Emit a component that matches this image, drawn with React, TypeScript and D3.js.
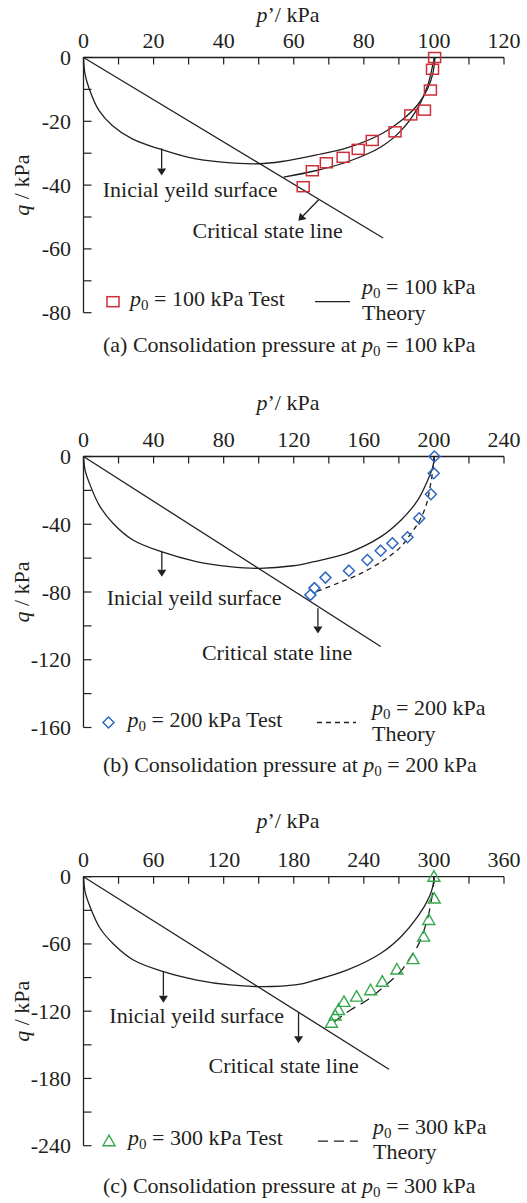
import React from "react";
import * as d3 from "d3";

type Pt = [number, number];

// ---- (a) p0 = 100 kPa ----
const xTicksA = [0, 20, 40, 60, 80, 100, 120];
const yTicksA = [0, -20, -40, -60, -80];
const yieldA: Pt[] = [
  [0, 0], [0.4, -5], [1.6, -9.7], [4.4, -16.6], [8.2, -21.3], [13.9, -25.5],
  [21.5, -28.6], [30, -31.3], [39.5, -32.8], [50, -33.3], [56.6, -32.6],
  [66.2, -30.6], [75.6, -28.2], [85.1, -23.9], [90.8, -19.7], [95.6, -14.5],
  [98.4, -9.3], [99.7, -5], [100.3, 0],
];
const theoryA: Pt[] = [
  [100.3, 0], [99.8, -1.8], [98.4, -8.1], [95.6, -15.4], [90.8, -22.7],
  [85.1, -27.9], [75.6, -32.6], [66.2, -35.5], [57.1, -37.5],
];
const testA: Pt[] = [
  [100.2, 0], [99.6, -3.7], [99, -10.2], [97.3, -16.5], [93.4, -18],
  [88.9, -23.3], [82.4, -26], [78.4, -28.8], [74.1, -31.3], [69.3, -33],
  [65.3, -35.5], [62.7, -40.5],
];
const cslA: Pt[] = [[0, 0], [85.5, -56.6]];

// ---- (b) p0 = 200 kPa ----
const xTicksB = [0, 40, 80, 120, 160, 200, 240];
const yTicksB = [0, -40, -80, -120, -160];
const yieldB: Pt[] = [
  [0, 0], [1, -8.5], [3.4, -15.8], [9.1, -29], [16.8, -39.4], [28.2, -49.3],
  [44.4, -56.2], [64.4, -62], [83.4, -65], [100.6, -66], [119.6, -64.5],
  [131.7, -62], [150.8, -57], [169.8, -47.3], [181.3, -37.5], [190.8, -25.7],
  [196.5, -13.9], [199.4, -6], [200.3, 0],
];
const theoryB: Pt[] = [
  [200.3, 0], [199.5, -7], [198, -17], [195.6, -28.6], [191.5, -38.5],
  [186.5, -46], [181.2, -53.2], [171.8, -61], [158.6, -68.9], [145.2, -74.8],
  [131.5, -80.3],
];
const testB: Pt[] = [
  [200.3, 0], [199.9, -9.9], [198.3, -22.3], [191.6, -36.5], [184.9, -47.7],
  [176.3, -51.2], [169.6, -55.6], [162, -61.1], [151.5, -67.4], [138.1, -71.5],
  [131.8, -77.7], [129.5, -81.7],
];
const cslB: Pt[] = [[0, 0], [169.6, -112.2]];

// ---- (c) p0 = 300 kPa ----
const xTicksC = [0, 60, 120, 180, 240, 300, 360];
const yTicksC = [0, -60, -120, -180, -240];
const yieldC: Pt[] = [
  [0, 0], [1.5, -14], [5.6, -26.8], [14.2, -46], [25.6, -60], [42.7, -74.3],
  [68.4, -84.7], [97.1, -92.2], [125.6, -96.6], [152.8, -98.1], [182.8, -96.3],
  [197.4, -92.6], [226, -83.2], [254.6, -68.3], [271.8, -53.5], [286.1, -35.7],
  [296.1, -17.8], [299.2, -8], [300, 0],
];
const theoryC: Pt[] = [
  [300, 0], [299.5, -9], [297.5, -23], [294.3, -38.6], [289.5, -53.5],
  [285.8, -62.4], [278, -75], [271.4, -84.7], [257.1, -98.1], [242.9, -110],
  [228.6, -118.9], [219, -126], [213, -131],
];
const testC: Pt[] = [
  [300, 0], [300.3, -19.5], [295.6, -38.6], [291.2, -53.5], [282.1, -73.5],
  [268.3, -82.8], [255.8, -93.7], [245.8, -101.3], [233.8, -107], [223, -111.7],
  [218.3, -118.9], [215.4, -123.8], [212.3, -130.3],
];
const cslC: Pt[] = [[0, 0], [261.5, -171.8]];

const INK = "#231f20";

type MarkerKind = "square" | "diamond" | "triangle";

function Marker({ kind, cx, cy, color }: { kind: MarkerKind; cx: number; cy: number; color: string }) {
  if (kind === "square")
    return <rect x={cx - 6} y={cy - 5} width={12} height={10} fill="none" stroke={color} strokeWidth={1.5} />;
  if (kind === "diamond")
    return (
      <path
        d={`M${cx},${cy - 5.5}L${cx + 5.5},${cy}L${cx},${cy + 5.5}L${cx - 5.5},${cy}Z`}
        fill="none" stroke={color} strokeWidth={1.5}
      />
    );
  return (
    <path
      d={`M${cx},${cy - 6}L${cx + 6},${cy + 4.5}L${cx - 6},${cy + 4.5}Z`}
      fill="none" stroke={color} strokeWidth={1.4}
    />
  );
}

function Arrow({ x1, y1, x2, y2 }: { x1: number; y1: number; x2: number; y2: number }) {
  const ang = Math.atan2(y2 - y1, x2 - x1);
  const len = 7;
  const hw = 4.5;
  const bx = x2 - len * Math.cos(ang);
  const by = y2 - len * Math.sin(ang);
  const px = -Math.sin(ang) * hw;
  const py = Math.cos(ang) * hw;
  return (
    <g>
      <line x1={x1} y1={y1} x2={bx} y2={by} stroke={INK} strokeWidth={1.3} />
      <path d={`M${x2},${y2}L${bx + px},${by + py}L${bx - px},${by - py}Z`} fill={INK} />
    </g>
  );
}

const P0 = ({ rest }: { rest: string }) => (
  <>
    <tspan fontStyle="italic">p</tspan>
    <tspan fontSize={15} dy={4}>0</tspan>
    <tspan dy={-4}>{rest}</tspan>
  </>
);

interface PanelProps {
  top: number;
  bottom: number;
  xMax: number;
  yMin: number;
  xMinor: number;
  yMinor: number;
  xTicks: number[];
  yTicks: number[];
  yieldPts: Pt[];
  theory: Pt[];
  test: Pt[];
  csl: Pt[];
  dash?: string;
  marker: MarkerKind;
  color: string;
  p0: number;
  letter: string;
  titleY: number;
  captionY: number;
  yieldArrow: [Pt, Pt];
  cslArrow: [Pt, Pt];
  yieldLabel: Pt;
  cslLabel: Pt;
  legY: number;
  legMarkerX: number;
  legTextX: number;
  legLine: [number, number];
  legRightX: number;
}

const LEFT = 83.5;
const RIGHT = 504;

function Panel(props: PanelProps) {
  const {
    top, bottom, xMax, yMin, xMinor, yMinor, xTicks, yTicks, yieldPts, theory,
    test, csl, dash, marker, color, p0, letter, titleY, captionY,
    yieldArrow, cslArrow, yieldLabel, cslLabel, legY, legMarkerX, legTextX, legLine, legRightX,
  } = props;

  const x = d3.scaleLinear().domain([0, xMax]).range([LEFT, RIGHT]);
  const y = d3.scaleLinear().domain([0, yMin]).range([top, bottom]);
  const curve = d3
    .line<Pt>()
    .x((d) => x(d[0]))
    .y((d) => y(d[1]))
    .curve(d3.curveCatmullRom.alpha(0.5));
  const straight = d3
    .line<Pt>()
    .x((d) => x(d[0]))
    .y((d) => y(d[1]));

  const xMinorTicks = d3.range(0, xMax + 0.001, xMinor);
  const yMinorTicks = d3.range(0, yMin - 0.001, -yMinor);

  return (
    <g>
      {/* axis titles */}
      <text x={288} y={titleY} textAnchor="middle">
        <tspan fontStyle="italic">p</tspan>’/ kPa
      </text>
      <text
        transform={`translate(28.5, ${(top + bottom) / 2}) rotate(-90)`}
        textAnchor="middle"
      >
        <tspan fontStyle="italic">q</tspan> / kPa
      </text>

      {/* axes */}
      <line x1={LEFT} x2={RIGHT} y1={top} y2={top} stroke={INK} strokeWidth={1.3} />
      <line x1={LEFT} x2={LEFT} y1={top} y2={bottom} stroke={INK} strokeWidth={1.3} />
      {xMinorTicks.map((t) => (
        <line key={`xt${t}`} x1={x(t)} x2={x(t)} y1={top} y2={top + 7} stroke={INK} strokeWidth={1.2} />
      ))}
      {yMinorTicks.map((t) => (
        <line key={`yt${t}`} x1={LEFT} x2={LEFT + 8} y1={y(t)} y2={y(t)} stroke={INK} strokeWidth={1.2} />
      ))}
      {xTicks.map((t) => (
        <text key={`xl${t}`} x={x(t)} y={top - 10} textAnchor="middle">{t}</text>
      ))}
      {yTicks.map((t) => (
        <text key={`yl${t}`} x={71} y={y(t) + 7.5} textAnchor="end">{t}</text>
      ))}

      {/* curves */}
      <path d={straight(csl) ?? ""} fill="none" stroke={INK} strokeWidth={1.3} />
      <path d={curve(yieldPts) ?? ""} fill="none" stroke={INK} strokeWidth={1.3} />
      <path d={curve(theory) ?? ""} fill="none" stroke={INK} strokeWidth={1.3} strokeDasharray={dash} />
      {test.map((d, i) => (
        <Marker key={i} kind={marker} cx={x(d[0])} cy={y(d[1])} color={color} />
      ))}

      {/* annotations */}
      <Arrow x1={x(yieldArrow[0][0])} y1={y(yieldArrow[0][1])} x2={x(yieldArrow[1][0])} y2={y(yieldArrow[1][1])} />
      <Arrow x1={x(cslArrow[0][0])} y1={y(cslArrow[0][1])} x2={x(cslArrow[1][0])} y2={y(cslArrow[1][1])} />
      <text x={x(yieldLabel[0])} y={y(yieldLabel[1])}>Inicial yeild surface</text>
      <text x={x(cslLabel[0])} y={y(cslLabel[1])}>Critical state line</text>

      {/* legend */}
      <Marker kind={marker} cx={legMarkerX} cy={bottom + legY} color={color} />
      <text x={legTextX} y={bottom + legY + 4}>
        <P0 rest={` = ${p0} kPa Test`} />
      </text>
      <line
        x1={legLine[0]} x2={legLine[1]} y1={bottom + legY} y2={bottom + legY}
        stroke={INK} strokeWidth={1.3} strokeDasharray={dash}
      />
      <text x={legRightX} y={bottom + legY - 7.5}>
        <P0 rest={` = ${p0} kPa`} />
      </text>
      <text x={legRightX} y={bottom + legY + 18}>Theory</text>

      {/* caption */}
      <text x={103} y={captionY}>
        ({letter}) Consolidation pressure at <P0 rest={` = ${p0} kPa`} />
      </text>
    </g>
  );
}

export default function App() {
  return (
    <svg
      width={527}
      height={1203}
      style={{ position: "absolute", left: 0, top: 0, background: "#fff" }}
      fontFamily="'Liberation Serif', 'Times New Roman', serif"
      fontSize={22}
      fill={INK}
    >
      <Panel
        top={57.5} bottom={312.7} xMax={120} yMin={-80} xMinor={10} yMinor={10}
        xTicks={xTicksA} yTicks={yTicksA}
        yieldPts={yieldA} theory={theoryA} test={testA} csl={cslA}
        marker="square" color="#cc2f3a" p0={100} letter="a"
        titleY={21.7} captionY={351.7}
        yieldArrow={[[22.3, -28.5], [22.3, -37]]}
        cslArrow={[[67.1, -44.6], [61.3, -51.2]]}
        yieldLabel={[5.5, -43.6]} cslLabel={[31.1, -56.7]}
        legY={-11} legMarkerX={113} legTextX={130} legLine={[315, 350]} legRightX={362}
      />
      <Panel
        top={456.5} bottom={727.5} xMax={240} yMin={-160} xMinor={20} yMinor={20}
        xTicks={xTicksB} yTicks={yTicksB}
        yieldPts={yieldB} theory={theoryB} test={testB} csl={cslB}
        dash="5,4" marker="diamond" color="#2f68c0" p0={200} letter="b"
        titleY={410} captionY={771.7}
        yieldArrow={[[44.7, -56.2], [44.7, -71]]}
        cslArrow={[[133.8, -89.6], [133.8, -104.5]]}
        yieldLabel={[13.3, -87.7]} cslLabel={[67.6, -120.2]}
        legY={-5} legMarkerX={108.5} legTextX={127.5} legLine={[317, 356]} legRightX={372}
      />
      <Panel
        top={876.7} bottom={1145.7} xMax={360} yMin={-240} xMinor={30} yMinor={30}
        xTicks={xTicksC} yTicks={yTicksC}
        yieldPts={yieldC} theory={theoryC} test={testC} csl={cslC}
        dash="10,6" marker="triangle" color="#35a84e" p0={300} letter="c"
        titleY={828.3} captionY={1193}
        yieldArrow={[[68.4, -84.7], [68.4, -112.4]]}
        cslArrow={[[184.1, -121.3], [184.1, -148.6]]}
        yieldLabel={[22.1, -130.8]} cslLabel={[107, -175.4]}
        legY={-4.5} legMarkerX={109} legTextX={128} legLine={[318, 358]} legRightX={373}
      />
    </svg>
  );
}
